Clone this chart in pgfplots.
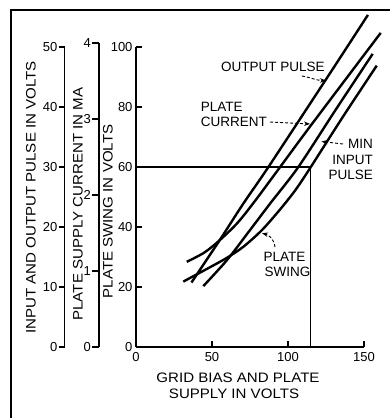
\documentclass[border=0pt]{standalone}
\usepackage{fontspec}
\setmainfont{Liberation Sans}
\newfontfamily\widefont{Liberation Sans}[FakeStretch=1.1]
\usepackage{pgfplots}
\pgfplotsset{compat=1.18}
\usetikzlibrary{arrows.meta}

\begin{document}
\begin{tikzpicture}
\path[use as bounding box] (0pt,0pt) rectangle (390pt,-418pt);

% ---- secondary axis: input and output pulse (volts)
\begin{axis}[
  at={(64.5pt,-347pt)}, anchor=south west, scale only axis,
  width=1pt, height=300pt,
  xmin=0, xmax=1, ymin=0, ymax=50,
  axis x line=none, axis y line=left,
  axis line style={-, line width=1.1pt},
  ytick={0,10,20,30,40,50},
  tick align=outside, major tick length=6pt,
  tick style={line width=1.1pt, black},
  yticklabel style={font=\fontsize{13}{13}\selectfont, inner sep=1pt},
  /pgf/number format/assume math mode=true,
]
\addplot[draw=none] coordinates {(0,0)};
\end{axis}

% ---- secondary axis: plate supply current (mA)
\begin{axis}[
  at={(99pt,-347pt)}, anchor=south west, scale only axis,
  width=1pt, height=304pt,
  xmin=0, xmax=1, ymin=0, ymax=4,
  axis x line=none, axis y line=left,
  axis line style={-, line width=1.1pt},
  ytick={0,1,2,3,4},
  tick align=outside, major tick length=7pt,
  tick style={line width=1.1pt, black},
  yticklabel style={font=\fontsize{13}{13}\selectfont, inner sep=1pt},
  /pgf/number format/assume math mode=true,
]
\addplot[draw=none] coordinates {(0,0)};
\end{axis}

% ---- main axis: plate swing (volts) vs grid bias / plate supply (volts)
\begin{axis}[
  at={(136pt,-347pt)}, anchor=south west, scale only axis,
  width=228pt, height=300pt,
  xmin=0, xmax=150, ymin=0, ymax=100,
  axis x line=bottom, axis y line=left,
  axis line style={-, line width=1.1pt},
  xtick={0,50,100,150}, ytick={0,20,40,60,80,100},
  tick align=inside, major tick length=6pt,
  tick style={line width=1.1pt, black},
  ticklabel style={font=\fontsize{13}{13}\selectfont},
  xticklabel style={yshift=-2pt},
  /pgf/number format/assume math mode=true,
  clip=false,
]
% guide line
\addplot[line width=1.1pt] coordinates {(0,60) (115,60) (115,0)};
% output pulse
\addplot[line width=2.4pt, smooth, tension=0.5] coordinates {
  (36.5,21.5) (55.3,35.8) (70.6,47.8) (87.5,60.3) (125.5,89.6) (152.6,110.7)};
% plate current
\addplot[line width=2.4pt, smooth, tension=0.5] coordinates {
  (33.4,28.4) (45,31.5) (55.3,35.7) (67,41.5) (78.3,48.7) (94.1,59.5) (115.1,73.9) (161,104.7)};
% min input pulse
\addplot[line width=2.4pt, smooth, tension=0.5] coordinates {
  (44.3,20.3) (59.9,29) (74,38.3) (88.2,47.8) (106.8,60) (131,78.8) (155.7,97.7)};
% plate swing
\addplot[line width=2.4pt, smooth, tension=0.5] coordinates {
  (31.1,21.8) (48.7,26.6) (59.7,29.7) (70.6,33.4) (82.9,39) (94.7,45.8) (105,52.4) (115,60) (136.2,76.8) (158.4,93.8)};
\end{axis}

% ---- annotations (pixel coordinates, y downwards)
\begin{scope}[x=1pt, y=-1pt]
\draw[line width=2pt] (10.5,418) -- (10.5,9.5) -- (390,9.5);

\begin{scope}[every node/.style={font=\widefont\fontsize{13.7}{14}\selectfont, inner sep=0pt}]
\node[rotate=90] at (31,197.5) {INPUT AND OUTPUT PULSE IN VOLTS};
\node[rotate=90] at (78,204) {PLATE SUPPLY CURRENT IN MA};
\node[rotate=90] at (108,211.5) {PLATE SWING IN VOLTS};
\node at (238,378) {GRID BIAS AND PLATE};
\node at (234,393.5) {SUPPLY IN VOLTS};
\end{scope}

\begin{scope}[every node/.style={font=\fontsize{13.5}{14}\selectfont, inner sep=0pt}]
\node at (273,66.7) {OUTPUT PULSE};
\node[anchor=west] at (200.7,107.3) {PLATE};
\node[anchor=west] at (200.7,121.7) {CURRENT};
\node[anchor=east] at (373,144.3) {MIN};
\node[anchor=east] at (373,160) {INPUT};
\node[anchor=east] at (373,175) {PULSE};
\node[anchor=west] at (263.5,256.7) {PLATE};
\node[anchor=west] at (264.5,271.7) {SWING};
\end{scope}

\begin{scope}[line width=0.9pt, dash pattern=on 3pt off 2pt, -{Stealth[length=6pt,width=4.5pt]}]
\draw (302,76) to[out=-10,in=180] (326,80.5);
\draw (270,122) -- (310,124);
\draw (343,144) -- (321.5,141.5);
\draw (275,247) .. controls (274,239) and (269,235) .. (262,233.3);
\end{scope}
\end{scope}
\end{tikzpicture}
\end{document}
